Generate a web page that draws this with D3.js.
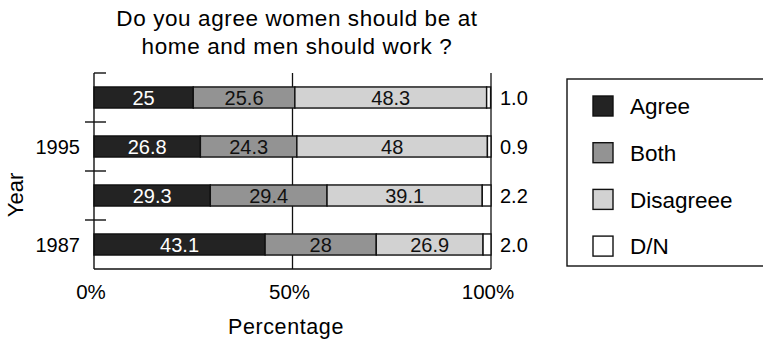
<!DOCTYPE html>
<html>
<head>
<meta charset="utf-8">
<script src="https://cdn.jsdelivr.net/npm/d3@7"></script>
<style>
  html, body { margin: 0; padding: 0; background: #fff; }
  svg { display: block; font-family: "Liberation Sans", Arial, Helvetica, sans-serif; }
</style>
</head>
<body>
<svg id="chart" width="763" height="342"></svg>
<script>
// Survey rows, top to bottom
const rows = ["r1", "r2", "r3", "r4"];
const yearLabels = ["", "1995", "", "1987"];
const seriesNames = ["Agree", "Both", "Disagreee", "D/N"];
const agree     = [25, 26.8, 29.3, 43.1];
const both      = [25.6, 24.3, 29.4, 28];
const disagree  = [48.3, 48, 39.1, 26.9];
const dn        = [1.0, 0.9, 2.2, 2.0];
const dnText    = ["1.0", "0.9", "2.2", "2.0"];
const xTicks    = [0, 50, 100];
const xTickText = ["0%", "50%", "100%"];

const fills = ["#232323", "#939393", "#d2d2d2", "#ffffff"];
const labelColors = ["#ffffff", "#111", "#111", "#111"];

const table = rows.map((r, i) => ({
  row: r, Agree: agree[i], Both: both[i], Disagreee: disagree[i], "D/N": dn[i]
}));
const stacked = d3.stack().keys(seriesNames)(table);

const svg = d3.select("#chart");
const plot = { left: 94, right: 491, top: 73, bottom: 269 };

const x = d3.scaleLinear().domain([0, 100]).range([plot.left, plot.right]);
const y = d3.scaleBand().domain(rows).range([plot.top, plot.bottom])
  .paddingInner(0.57).paddingOuter(0.285);

// Title
svg.append("text")
  .attr("x", 297).attr("y", 26)
  .attr("text-anchor", "middle")
  .style("font-size", "22.5px").style("letter-spacing", "0.6px")
  .selectAll("tspan")
  .data(["Do you agree women should be at", "home and men should work ?"])
  .join("tspan")
  .attr("x", 297).attr("dy", (d, i) => i === 0 ? 0 : 28)
  .text(d => d);

// 50% reference line and right frame line
svg.append("line")
  .attr("x1", x(50)).attr("x2", x(50))
  .attr("y1", plot.top).attr("y2", plot.bottom)
  .attr("stroke", "#111").attr("stroke-width", 1.3);
svg.append("line")
  .attr("x1", x(100)).attr("x2", x(100))
  .attr("y1", plot.top).attr("y2", plot.bottom)
  .attr("stroke", "#111").attr("stroke-width", 1.3);

// Bars
const layers = svg.append("g").selectAll("g")
  .data(stacked).join("g")
  .attr("fill", (d, i) => fills[i]);

layers.selectAll("rect")
  .data(d => d.map(v => ({ v, key: d.key })))
  .join("rect")
  .attr("x", d => x(d.v[0]))
  .attr("width", d => x(d.v[1]) - x(d.v[0]))
  .attr("y", d => y(d.v.data.row))
  .attr("height", y.bandwidth())
  .attr("stroke", "#111").attr("stroke-width", 1.4);

// Segment value labels (first three series)
stacked.slice(0, 3).forEach((layer, si) => {
  svg.append("g").selectAll("text")
    .data(layer).join("text")
    .attr("x", d => (x(d[0]) + x(d[1])) / 2)
    .attr("y", d => y(d.data.row) + y.bandwidth() / 2)
    .attr("dy", "0.37em")
    .attr("text-anchor", "middle")
    .attr("fill", labelColors[si])
    .style("font-size", "20px")
    .text(d => d.data[layer.key]);
});

// D/N values to the right of the frame
svg.append("g").selectAll("text")
  .data(rows).join("text")
  .attr("x", 500)
  .attr("y", d => y(d) + y.bandwidth() / 2)
  .attr("dy", "0.37em")
  .style("font-size", "20px")
  .text((d, i) => dnText[i]);

// Left axis: line, tick marks between rows, top stub
const axisG = svg.append("g").attr("stroke", "#111").attr("stroke-width", 1.4);
axisG.append("line")
  .attr("x1", plot.left).attr("x2", plot.left)
  .attr("y1", plot.top).attr("y2", plot.bottom);
axisG.append("line")
  .attr("x1", plot.left).attr("x2", plot.left + 12)
  .attr("y1", plot.top).attr("y2", plot.top);
const step = y.step();
axisG.selectAll("line.tick")
  .data(rows.slice(0, -1)).join("line")
  .attr("class", "tick")
  .attr("x1", plot.left - 9).attr("x2", plot.left + 12)
  .attr("y1", d => y(d) + y.bandwidth() + (step - y.bandwidth()) / 2)
  .attr("y2", d => y(d) + y.bandwidth() + (step - y.bandwidth()) / 2);

// Bottom axis line
axisG.append("line")
  .attr("x1", plot.left).attr("x2", plot.right)
  .attr("y1", plot.bottom).attr("y2", plot.bottom);

// Year labels
svg.append("g").selectAll("text")
  .data(rows).join("text")
  .attr("x", 80)
  .attr("y", d => y(d) + y.bandwidth() / 2)
  .attr("dy", "0.37em")
  .attr("text-anchor", "end")
  .style("font-size", "20px")
  .text((d, i) => yearLabels[i]);

// Y axis title
svg.append("text")
  .attr("transform", "translate(23,195) rotate(-90)")
  .attr("text-anchor", "middle")
  .style("font-size", "22px")
  .text("Year");

// X tick labels
svg.append("g").selectAll("text")
  .data(xTicks).join("text")
  .attr("x", d => x(d) - 3)
  .attr("y", 299)
  .attr("text-anchor", "middle")
  .style("font-size", "20.5px")
  .text((d, i) => xTickText[i]);

// X axis title
svg.append("text")
  .attr("x", 286).attr("y", 334)
  .attr("text-anchor", "middle")
  .style("font-size", "21.5px").style("letter-spacing", "0.6px")
  .text("Percentage");

// Legend
const legend = svg.append("g");
legend.append("rect")
  .attr("x", 567).attr("y", 79)
  .attr("width", 210).attr("height", 187)
  .attr("fill", "none").attr("stroke", "#111").attr("stroke-width", 1.4);
const legendRows = legend.selectAll("g.item")
  .data(seriesNames).join("g")
  .attr("class", "item")
  .attr("transform", (d, i) => `translate(0, ${106 + i * 46.7})`);
legendRows.append("rect")
  .attr("x", 593).attr("y", -10)
  .attr("width", 20).attr("height", 20)
  .attr("fill", (d, i) => fills[i])
  .attr("stroke", "#111").attr("stroke-width", 1.4);
legendRows.append("text")
  .attr("x", 630).attr("y", 0).attr("dy", "0.37em")
  .style("font-size", "22.5px")
  .text(d => d);
</script>
</body>
</html>
